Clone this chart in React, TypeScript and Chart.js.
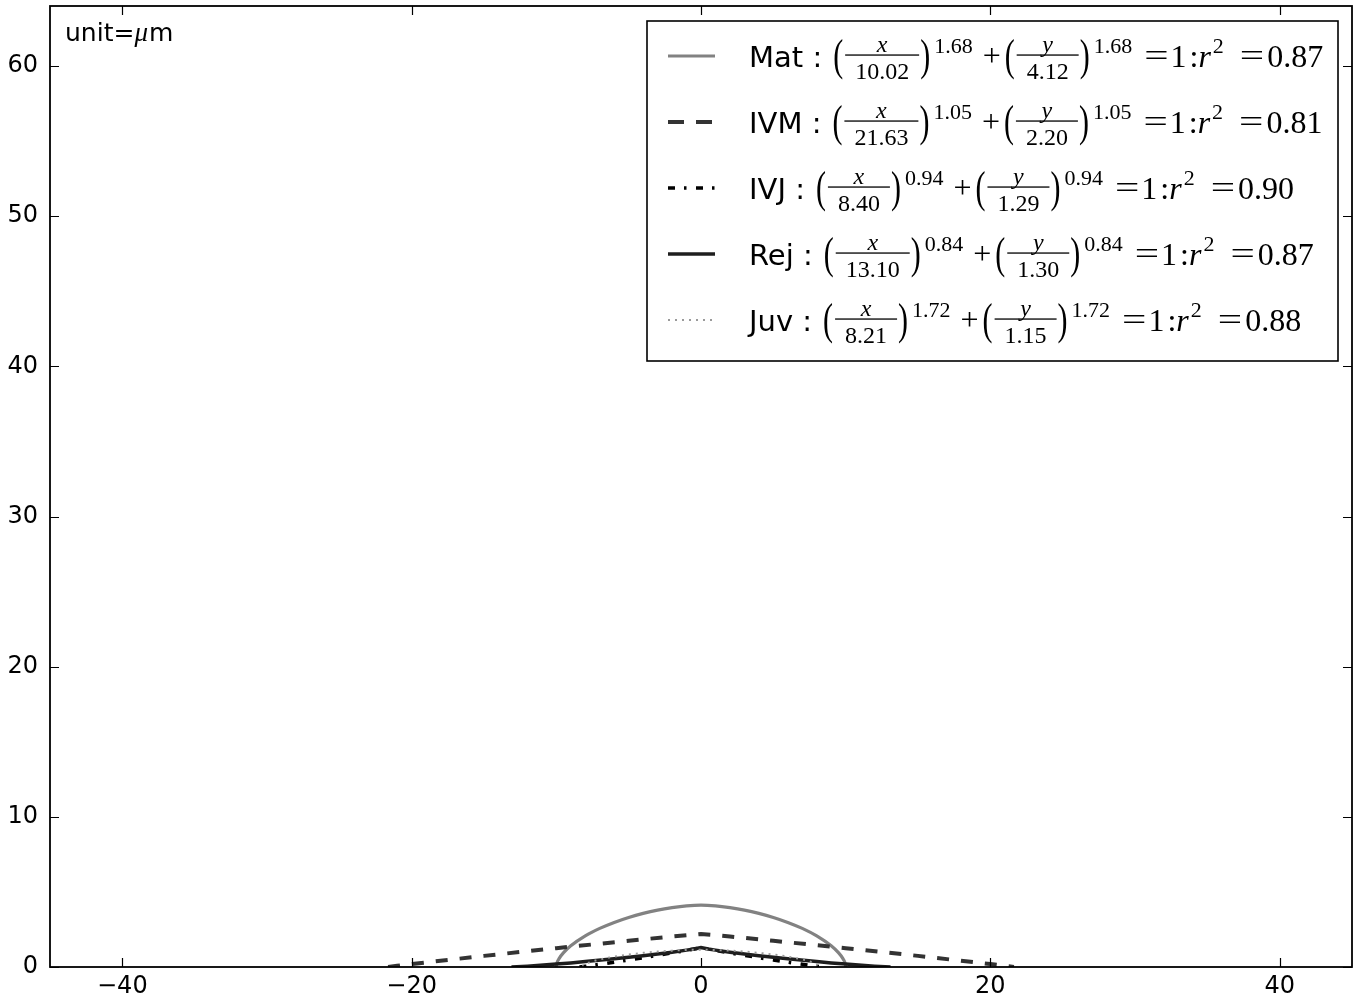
import React, { useEffect, useRef } from "react";
import { Chart, registerables } from "chart.js";
Chart.register(...registerables);

// ---- Data ----
const X_TICKS = [-40, -20, 0, 20, 40];
const Y_TICKS = [0, 10, 20, 30, 40, 50, 60];

const LABELS = ["Mat", "IVM", "IVJ", "Rej", "Juv"];
const X_SCALES = ["10.02", "21.63", "8.40", "13.10", "8.21"];
const Y_SCALES = ["4.12", "2.20", "1.29", "1.30", "1.15"];
const EXPONENTS = ["1.68", "1.05", "0.94", "0.84", "1.72"];
const R2 = ["0.87", "0.81", "0.90", "0.87", "0.88"];

const matX = [-10.02, -9.95, -9.8, -9.5, -9, -8, -7, -6, -5, -4, -3, -2, -1, 0, 1, 2, 3, 4, 5, 6, 7, 8, 9, 9.5, 9.8, 9.95, 10.02];
const matY = [0, 0.29, 0.575, 0.954, 1.41, 2.07, 2.57, 2.97, 3.3, 3.57, 3.787, 3.95, 4.069, 4.12, 4.069, 3.95, 3.787, 3.57, 3.3, 2.97, 2.57, 2.07, 1.41, 0.954, 0.575, 0.29, 0];

const ivmX = [-21.63, -21, -20, -15, -10, -5, -2, -1, 0, 1, 2, 5, 10, 15, 20, 21, 21.63];
const ivmY = [0, 0.079, 0.196, 0.741, 1.256, 1.747, 2.03, 2.117, 2.2, 2.117, 2.03, 1.747, 1.256, 0.741, 0.196, 0.079, 0];

const ivjX = [-8.4, -8, -7.5, -7, -6, -5, -4, -3, -2, -1, -0.5, 0, 0.5, 1, 2, 3, 4, 5, 6, 7, 7.5, 8, 8.4];
const ivjY = [0, 0.047, 0.113, 0.181, 0.322, 0.469, 0.62, 0.776, 0.937, 1.105, 1.193, 1.29, 1.193, 1.105, 0.937, 0.776, 0.62, 0.469, 0.322, 0.181, 0.113, 0.047, 0];

const rejX = [-13.1, -12, -10, -9, -8, -6, -4, -3, -2, -1, -0.5, 0, 0.5, 1, 2, 3, 4, 6, 8, 9, 10, 12, 13.1];
const rejY = [0, 0.056, 0.195, 0.274, 0.359, 0.544, 0.751, 0.865, 0.988, 1.124, 1.201, 1.3, 1.201, 1.124, 0.988, 0.865, 0.751, 0.544, 0.359, 0.274, 0.195, 0.056, 0];

const juvX = [-8.21, -8.1, -8, -7.5, -7, -6, -5, -4, -3, -2, -1, 0, 1, 2, 3, 4, 5, 6, 7, 7.5, 8, 8.1, 8.21];
const juvY = [0, 0.128, 0.186, 0.373, 0.501, 0.69, 0.833, 0.942, 1.027, 1.09, 1.132, 1.15, 1.132, 1.09, 1.027, 0.942, 0.833, 0.69, 0.501, 0.373, 0.186, 0.128, 0];

const SERIES_X = [matX, ivmX, ivjX, rejX, juvX];
const SERIES_Y = [matY, ivmY, ivjY, rejY, juvY];

// ---- Styles ----
const STYLES = [
  { color: "#828282", width: 3.2, dash: [] as number[], legendDash: [] as number[], mono: true },
  { color: "#333333", width: 4, dash: [12, 12], legendDash: [16, 12], mono: false },
  { color: "#000000", width: 3.5, dash: [7, 9, 2.5, 9.5], legendDash: [7, 9, 2.5, 9.5], mono: false },
  { color: "#1e1e1e", width: 3.5, dash: [], legendDash: [], mono: false },
  { color: "#9a9a9a", width: 2, dash: [2, 5], legendDash: [2, 5], mono: true },
];

const SANS = '"DejaVu Sans", sans-serif';
const SERIF = '"Liberation Serif", "DejaVu Serif", serif';

function fmtTick(v: number): string {
  return v < 0 ? "\u2212" + Math.abs(v) : String(v);
}

function drawParen(ctx: CanvasRenderingContext2D, ch: string, x: number, cy: number): number {
  ctx.font = `30px ${SERIF}`;
  ctx.save();
  ctx.translate(x, cy + 14);
  ctx.scale(1, 1.45);
  ctx.fillText(ch, 0, 0);
  ctx.restore();
  return ctx.measureText(ch).width;
}

function drawEq(ctx: CanvasRenderingContext2D, x: number, cy: number): number {
  ctx.font = `32px ${SERIF}`;
  ctx.save();
  ctx.translate(x, cy + 10);
  ctx.scale(1.35, 1);
  ctx.fillText("=", 0, 0);
  ctx.restore();
  return ctx.measureText("=").width * 1.35;
}

function drawTerm(ctx: CanvasRenderingContext2D, x0: number, cy: number, v: string, den: string, exp: string): number {
  let x = x0;
  x += drawParen(ctx, "(", x, cy) + 2;
  ctx.font = `italic 24px ${SERIF}`;
  const nw = ctx.measureText(v).width;
  ctx.font = `24px ${SERIF}`;
  const dw = ctx.measureText(den).width;
  const bw = Math.max(nw, dw) + 20;
  ctx.fillRect(x, cy - 1.6, bw, 1.3);
  ctx.textAlign = "center";
  ctx.font = `italic 24px ${SERIF}`;
  ctx.fillText(v, x + bw / 2, cy - 4);
  ctx.font = `24px ${SERIF}`;
  ctx.fillText(den, x + bw / 2, cy + 23);
  ctx.textAlign = "left";
  x += bw + 1;
  x += drawParen(ctx, ")", x, cy) + 4;
  ctx.font = `22px ${SERIF}`;
  ctx.fillText(exp, x, cy - 3);
  x += ctx.measureText(exp).width;
  return x;
}

const overlayPlugin = {
  id: "overlay",
  afterDatasetsDraw(chart: any) {
    const ctx: CanvasRenderingContext2D = chart.ctx;
    const a = chart.chartArea;
    const xs = chart.scales.x;
    const ys = chart.scales.y;
    ctx.save();
    // ticks inward on all sides
    ctx.strokeStyle = "#000";
    ctx.lineWidth = 1.2;
    ctx.setLineDash([]);
    ctx.beginPath();
    X_TICKS.forEach((t) => {
      const px = Math.round(xs.getPixelForValue(t)) + 0.5;
      ctx.moveTo(px, a.bottom);
      ctx.lineTo(px, a.bottom - 9);
      ctx.moveTo(px, a.top);
      ctx.lineTo(px, a.top + 9);
    });
    Y_TICKS.forEach((t) => {
      const py = Math.round(ys.getPixelForValue(t)) + 0.5;
      ctx.moveTo(a.left, py);
      ctx.lineTo(a.left + 9, py);
      ctx.moveTo(a.right, py);
      ctx.lineTo(a.right - 9, py);
    });
    ctx.stroke();
    // frame
    ctx.lineWidth = 1.8;
    ctx.strokeRect(a.left, a.top, a.right - a.left, a.bottom - a.top);

    // unit text
    ctx.fillStyle = "#000";
    ctx.textBaseline = "alphabetic";
    ctx.textAlign = "left";
    let ux = a.left + 15;
    const uy = a.top + 35;
    ctx.font = `25px ${SANS}`;
    ctx.fillText("unit=", ux, uy);
    ux += ctx.measureText("unit=").width;
    ctx.font = `italic 27px ${SERIF}`;
    ctx.fillText("\u03bc", ux, uy);
    ux += ctx.measureText("\u03bc").width + 1;
    ctx.font = `25px ${SANS}`;
    ctx.fillText("m", ux, uy);

    // legend box
    const L = a.right - 705;
    const T = a.top + 15;
    const W = 691;
    const H = 340;
    ctx.fillStyle = "#fff";
    ctx.fillRect(L, T, W, H);
    ctx.strokeStyle = "#000";
    ctx.lineWidth = 1.6;
    ctx.strokeRect(L, T, W, H);

    LABELS.forEach((lab, i) => {
      const cy = T + 35 + i * 66;
      const st = STYLES[i];
      ctx.save();
      ctx.strokeStyle = st.color;
      ctx.lineWidth = st.width;
      ctx.setLineDash(st.legendDash);
      ctx.beginPath();
      ctx.moveTo(L + 21, cy);
      ctx.lineTo(L + 68, cy);
      ctx.stroke();
      ctx.restore();

      ctx.fillStyle = "#000";
      ctx.textAlign = "left";
      ctx.textBaseline = "alphabetic";
      let x = L + 102;
      ctx.font = `29px ${SANS}`;
      const text = lab + " :";
      ctx.fillText(text, x, cy + 11);
      x += ctx.measureText(text).width + 11;
      x = drawTerm(ctx, x, cy, "x", X_SCALES[i], EXPONENTS[i]);
      x += 10;
      ctx.font = `32px ${SERIF}`;
      ctx.fillText("+", x, cy + 10);
      x += ctx.measureText("+").width + 4;
      x = drawTerm(ctx, x, cy, "y", Y_SCALES[i], EXPONENTS[i]);
      x += 12;
      x += drawEq(ctx, x, cy) + 2;
      ctx.font = `32px ${SERIF}`;
      ctx.fillText("1", x, cy + 11);
      x += ctx.measureText("1").width + 3;
      ctx.fillText(":", x, cy + 11);
      x += ctx.measureText(":").width;
      ctx.font = `italic 32px ${SERIF}`;
      ctx.fillText("r", x, cy + 11);
      x += ctx.measureText("r").width + 2;
      ctx.font = `22px ${SERIF}`;
      ctx.fillText("2", x, cy - 3);
      x += ctx.measureText("2").width + 16;
      x += drawEq(ctx, x, cy) + 3;
      ctx.font = `32px ${SERIF}`;
      ctx.fillText(R2[i], x, cy + 11);
    });
    ctx.restore();
  },
};

export default function App() {
  const ref = useRef<HTMLCanvasElement | null>(null);
  useEffect(() => {
    if (!ref.current) return;
    const datasets = LABELS.map((lab, i) => ({
      label: lab,
      data: SERIES_X[i].map((x, j) => ({ x, y: SERIES_Y[i][j] })),
      borderColor: STYLES[i].color,
      borderWidth: STYLES[i].width,
      borderDash: STYLES[i].dash,
      pointRadius: 0,
      fill: false,
      tension: STYLES[i].mono ? 0.4 : 0,
      cubicInterpolationMode: STYLES[i].mono ? ("monotone" as const) : ("default" as const),
      order: 5 - i,
    }));
    const tickFont = { family: SANS, size: 24 };
    const chart = new Chart(ref.current, {
      type: "line",
      data: { datasets },
      options: {
        animation: false,
        responsive: false,
        devicePixelRatio: 1,
        layout: { autoPadding: false, padding: { left: 0, right: 6, top: 6, bottom: 0 } },
        plugins: { legend: { display: false }, tooltip: { enabled: false } },
        scales: {
          x: {
            type: "linear",
            min: -45,
            max: 45,
            afterBuildTicks: (s: any) => {
              s.ticks = X_TICKS.map((v) => ({ value: v }));
            },
            afterFit: (s: any) => {
              s.height = 32;
              s.paddingLeft = 0;
              s.paddingRight = 0;
              s.paddingTop = 0;
              s.paddingBottom = 0;
            },
            grid: { display: false, drawTicks: false },
            border: { display: false },
            ticks: {
              font: tickFont,
              color: "#000",
              padding: 5,
              maxRotation: 0,
              autoSkip: false,
              callback: (v: any) => fmtTick(Number(v)),
            },
          },
          y: {
            type: "linear",
            min: 0,
            max: 64,
            afterBuildTicks: (s: any) => {
              s.ticks = Y_TICKS.map((v) => ({ value: v }));
            },
            afterFit: (s: any) => {
              s.width = 50;
              s.paddingLeft = 0;
              s.paddingRight = 0;
              s.paddingTop = 0;
              s.paddingBottom = 0;
            },
            grid: { display: false, drawTicks: false },
            border: { display: false },
            ticks: {
              font: tickFont,
              color: "#000",
              padding: 12,
              autoSkip: false,
              callback: (v: any) => fmtTick(Number(v)),
            },
          },
        },
      },
      plugins: [overlayPlugin],
    });
    return () => chart.destroy();
  }, []);
  return (
    <div style={{ position: "absolute", left: 0, top: 0, width: 1358, height: 999, background: "#fff" }}>
      <canvas ref={ref} width={1358} height={999} style={{ display: "block" }} />
    </div>
  );
}
